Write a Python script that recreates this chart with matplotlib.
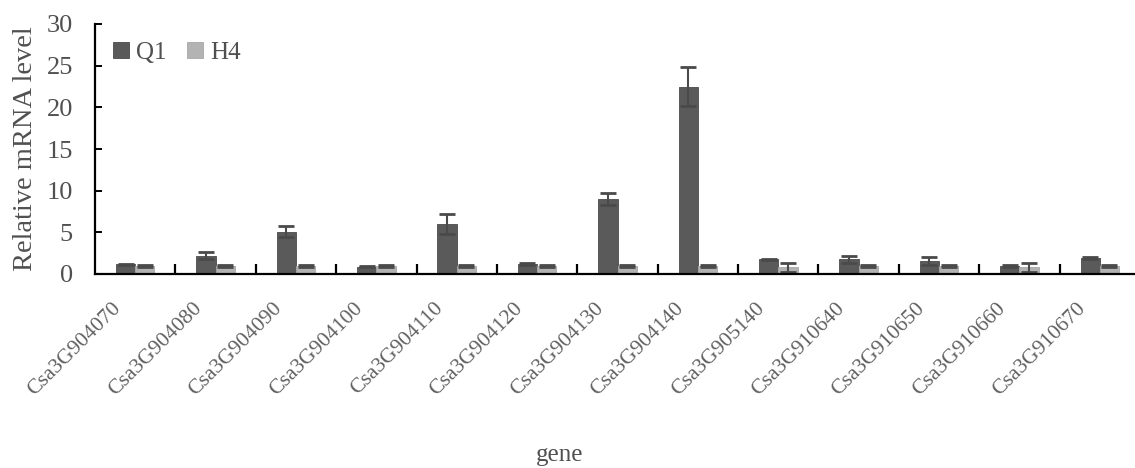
import matplotlib
matplotlib.use("Agg")
import matplotlib.pyplot as plt
import matplotlib.transforms as mtransforms
import numpy as np

genes = ["Csa3G904070", "Csa3G904080", "Csa3G904090", "Csa3G904100", "Csa3G904110",
         "Csa3G904120", "Csa3G904130", "Csa3G904140", "Csa3G905140", "Csa3G910640",
         "Csa3G910650", "Csa3G910660", "Csa3G910670"]
q1 = [1.15, 2.2, 5.1, 0.9, 6.0, 1.2, 9.0, 22.5, 1.75, 1.75, 1.55, 0.95, 1.9]
q1_err = [0.1, 0.45, 0.7, 0.1, 1.15, 0.1, 0.75, 2.3, 0.1, 0.45, 0.45, 0.1, 0.1]
h4 = [0.95, 0.95, 0.95, 1.0, 0.95, 0.95, 0.95, 0.95, 0.8, 0.95, 0.95, 0.8, 0.95]
h4_err = [0.1, 0.1, 0.1, 0.1, 0.1, 0.1, 0.1, 0.1, 0.5, 0.1, 0.1, 0.5, 0.1]
series_names = ["Q1", "H4"]
yticks = [0, 5, 10, 15, 20, 25, 30]

plt.rcParams['font.family'] = ['Liberation Serif', 'DejaVu Serif']

W, H = 1135, 468
fig = plt.figure(figsize=(W / 100, H / 100), dpi=100)
left, right, top, bottom = 95, 1140, 24, 274
ax = fig.add_axes([left / W, 1 - bottom / H, (right - left) / W, (bottom - top) / H])

x = np.arange(len(genes))
bw = 0.24
c_q1 = "#5a5a5a"
c_h4 = "#b3b3b3"
ekw = dict(ecolor="#4a4a4a", elinewidth=1.5, capsize=6, capthick=2)
ax.bar(x - 0.12, q1, bw, yerr=q1_err, color=c_q1, edgecolor="#4a4a4a", linewidth=0.6,
       label=series_names[0], error_kw=ekw)
ax.bar(x + 0.12, h4, bw, yerr=h4_err, color=c_h4, edgecolor="#a8a8a8", linewidth=0.6,
       label=series_names[1], error_kw=ekw)

ax.set_xlim(-0.5, len(genes) - 0.5)
ax.set_ylim(0, 30)
ax.set_yticks(yticks)
ax.spines['top'].set_visible(False)
ax.spines['right'].set_visible(False)
ax.spines['left'].set_linewidth(1.6)
ax.spines['bottom'].set_linewidth(1.6)

ax.set_xticks(x)
ax.set_xticklabels(genes, rotation=45, ha='right', fontsize=15.5, color="#606060")
ax.set_xticks(np.arange(0.5, len(genes) - 0.5, 1), minor=True)
ax.tick_params(axis='x', which='major', length=0, pad=18)
ax.tick_params(axis='x', which='minor', direction='in', length=7, width=1.6, color='black')
ax.tick_params(axis='y', direction='in', length=5, width=1.4, pad=16, labelsize=19,
               labelcolor="#505050")
offset = mtransforms.ScaledTranslation(-0.10, 0, fig.dpi_scale_trans)
for lab in ax.get_xticklabels():
    lab.set_transform(lab.get_transform() + offset)

ax.set_ylabel("Relative mRNA level", fontsize=20.5, color="#505050", labelpad=6)
fig.text(560 / W, 1 - 455 / H, "gene", fontsize=18, color="#505050", ha='center', va='center')

leg = ax.legend(loc='upper left', frameon=False, ncol=2, fontsize=18, handlelength=0.65,
                handleheight=0.65, handletextpad=0.3, columnspacing=0.8,
                bbox_to_anchor=(0.0, 1.0), borderaxespad=0.3, labelcolor="#505050")

fig.savefig("out.png", dpi=100)
